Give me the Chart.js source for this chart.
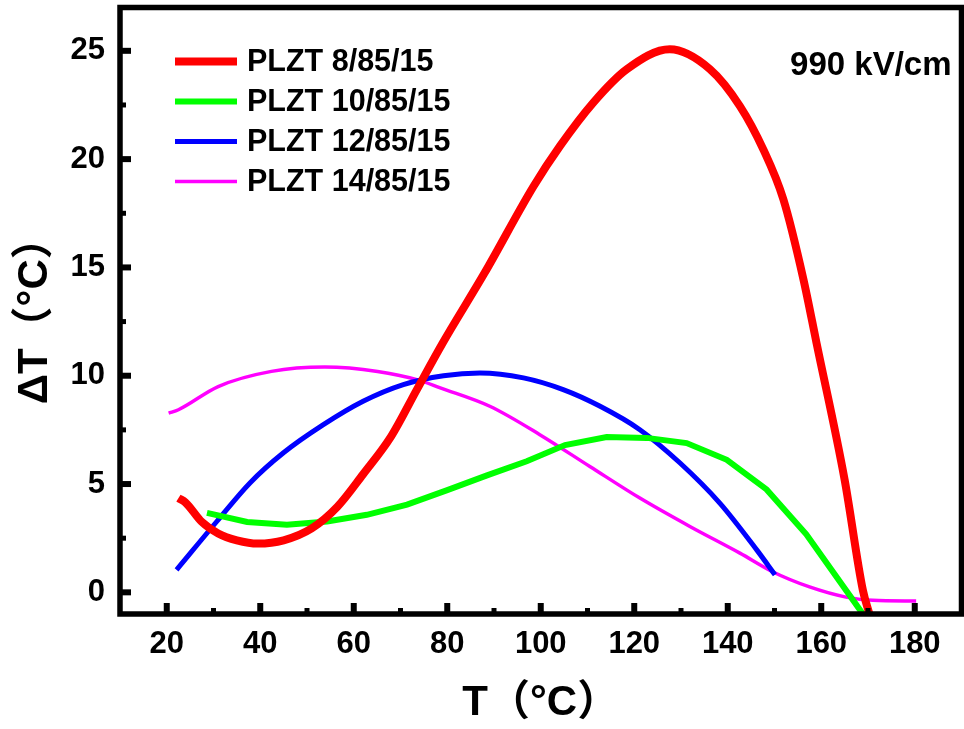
<!DOCTYPE html>
<html>
<head>
<meta charset="utf-8">
<script src="https://cdn.jsdelivr.net/npm/chart.js@4.4.1/dist/chart.umd.min.js"></script>
<style>
  body { margin: 0; background: #fff; }
  #chart { display: block; }
</style>
</head>
<body>
<canvas id="chart" width="964" height="729"></canvas>
<script>
// Values (T in °C, ΔT in °C)
const seriesLabels = ['PLZT 8/85/15', 'PLZT 10/85/15', 'PLZT 12/85/15', 'PLZT 14/85/15'];

const xTickValues = [20, 40, 60, 80, 100, 120, 140, 160, 180];
const yTickValues = [0, 5, 10, 15, 20, 25];

const plzt8T  = [22.5, 24, 27.5, 31, 35, 39.5, 45, 51, 56.5, 62, 68, 73.5, 79, 88, 98.5, 104.1, 111.2, 118.4, 127.6, 136.2, 142.6, 147.6, 151.9, 156.2, 159, 165, 168.9, 170.3];
const plzt8dT = [4.35, 4.15, 3.25, 2.72, 2.4, 2.25, 2.4, 2.95, 3.95, 5.45, 7.2, 9.36, 11.5, 14.75, 18.76, 20.6, 22.6, 24.15, 25.07, 24.15, 22.45, 20.45, 18.14, 14.44, 11.5, 5.2, 0.1, -1.0];

const plzt10T  = [28.6, 37.2, 45.7, 54.3, 62.8, 71.4, 80, 88.5, 97, 105.2, 114.1, 122.7, 131.2, 139.8, 148.3, 156.8, 168.8];
const plzt10dT = [3.67, 3.25, 3.12, 3.27, 3.58, 4.05, 4.72, 5.4, 6.05, 6.8, 7.17, 7.13, 6.89, 6.12, 4.75, 2.68, -0.97];

const plzt12T  = [22.1, 30.7, 37.8, 44.9, 53.5, 62.0, 70.6, 79.2, 87.0, 96.3, 104.8, 112.7, 121.2, 129.8, 138.3, 146.2, 150.1];
const plzt12dT = [1.04, 3.27, 5.05, 6.43, 7.74, 8.82, 9.59, 10.0, 10.13, 9.9, 9.36, 8.59, 7.51, 5.97, 4.12, 1.96, 0.81];

const plzt14T  = [20.4, 22.5, 31, 42.4, 53.8, 65.1, 73.7, 78.5, 89.1, 99.8, 110.5, 121.2, 131.9, 142.6, 149.7, 157.5, 165.3, 171, 180.3];
const plzt14dT = [8.27, 8.43, 9.5, 10.2, 10.4, 10.2, 9.81, 9.44, 8.59, 7.28, 5.81, 4.35, 3.04, 1.81, 0.94, 0.25, -0.22, -0.37, -0.4];

const seriesColors = ['#ff0000', '#00ff00', '#0000ff', '#ff00ff'];
const seriesWidths = [8, 6, 5, 3.5];

const fontFamily = "'Liberation Sans', Arial, 'Noto Sans CJK SC', sans-serif";

function toPoints(xs, ys) {
    return xs.map((x, i) => ({ x: x, y: ys[i] }));
}

const allT = [plzt8T, plzt10T, plzt12T, plzt14T];
const allDT = [plzt8dT, plzt10dT, plzt12dT, plzt14dT];

const datasets = seriesLabels.map((label, i) => ({
    label: label,
    data: toPoints(allT[i], allDT[i]),
    borderColor: seriesColors[i],
    backgroundColor: seriesColors[i],
    borderWidth: seriesWidths[i],
    pointRadius: 0,
    fill: false,
    // the green curve is drawn as straight segments in the original
    cubicInterpolationMode: i === 1 ? 'default' : 'monotone',
    tension: i === 1 ? 0 : 0.4
}));

// frame, inward ticks, legend and field label
const framePlugin = {
    id: 'frame',
    afterDraw(chart) {
        const ctx = chart.ctx;
        const a = chart.chartArea;
        const xs = chart.scales.x;
        const ys = chart.scales.y;
        ctx.save();
        ctx.strokeStyle = '#000';
        ctx.lineCap = 'butt';

        // inward ticks on bottom and left axes
        const drawX = (v, len, w) => {
            const px = xs.getPixelForValue(v);
            ctx.lineWidth = w;
            ctx.beginPath();
            ctx.moveTo(px, a.bottom);
            ctx.lineTo(px, a.bottom - len);
            ctx.stroke();
        };
        const drawY = (v, len, w) => {
            const py = ys.getPixelForValue(v);
            ctx.lineWidth = w;
            ctx.beginPath();
            ctx.moveTo(a.left, py);
            ctx.lineTo(a.left + len, py);
            ctx.stroke();
        };
        xTickValues.forEach((v, i) => {
            drawX(v, 11, 6);
            if (i < xTickValues.length - 1) drawX((v + xTickValues[i + 1]) / 2, 6, 5);
        });
        yTickValues.forEach((v, i) => {
            drawY(v, 11, 6);
            if (i < yTickValues.length - 1) drawY((v + yTickValues[i + 1]) / 2, 6, 5);
        });

        // box
        ctx.lineWidth = 5.5;
        ctx.strokeRect(a.left, a.top, a.right - a.left, a.bottom - a.top);

        // legend
        ctx.font = 'bold 30.5px ' + fontFamily;
        ctx.textAlign = 'left';
        ctx.textBaseline = 'alphabetic';
        chart.data.datasets.forEach((ds, i) => {
            const base = a.top + 63 + i * 40;
            ctx.strokeStyle = ds.borderColor;
            ctx.lineWidth = ds.borderWidth;
            ctx.beginPath();
            ctx.moveTo(a.left + 55, base - 9);
            ctx.lineTo(a.left + 117, base - 9);
            ctx.stroke();
            ctx.fillStyle = '#000';
            ctx.fillText(ds.label, a.left + 127, base);
        });

        // field strength
        ctx.font = 'bold 33px ' + fontFamily;
        ctx.textAlign = 'right';
        ctx.fillText('990 kV/cm', a.right - 10, a.top + 67.5);
        ctx.restore();
    }
};

const ctx = document.getElementById('chart').getContext('2d');

new Chart(ctx, {
    type: 'line',
    data: { datasets: datasets },
    options: {
        responsive: false,
        animation: false,
        devicePixelRatio: 1,
        layout: { padding: { top: 7.5, right: 2.5, left: 0, bottom: 0 } },
        plugins: {
            legend: { display: false },
            tooltip: { enabled: false }
        },
        scales: {
            x: {
                type: 'linear',
                min: 10,
                max: 190,
                afterFit(scale) {
                    scale.height = 115;
                    scale.paddingLeft = 0;
                    scale.paddingRight = 0;
                },
                afterBuildTicks(scale) { scale.ticks = xTickValues.map(v => ({ value: v })); },
                grid: { display: false, drawTicks: false },
                border: { display: false },
                ticks: {
                    padding: 12,
                    color: '#000',
                    font: { family: fontFamily, size: 31, weight: 'bold' }
                },
                title: {
                    display: true,
                    text: 'T（°C）',
                    color: '#000',
                    padding: { top: 0, bottom: 0 },
                    font: { family: fontFamily, size: 42, weight: 'bold' }
                }
            },
            y: {
                min: -1,
                max: 27,
                afterFit(scale) {
                    scale.width = 120;
                    scale.paddingTop = 0;
                    scale.paddingBottom = 0;
                },
                afterBuildTicks(scale) { scale.ticks = yTickValues.map(v => ({ value: v })); },
                grid: { display: false, drawTicks: false },
                border: { display: false },
                ticks: {
                    padding: 15,
                    color: '#000',
                    font: { family: fontFamily, size: 31, weight: 'bold' }
                },
                title: {
                    display: true,
                    text: 'ΔT（°C）',
                    color: '#000',
                    padding: { top: 10, bottom: 0 },
                    font: { family: fontFamily, size: 42, weight: 'bold' }
                }
            }
        }
    },
    plugins: [framePlugin]
});
</script>
</body>
</html>
